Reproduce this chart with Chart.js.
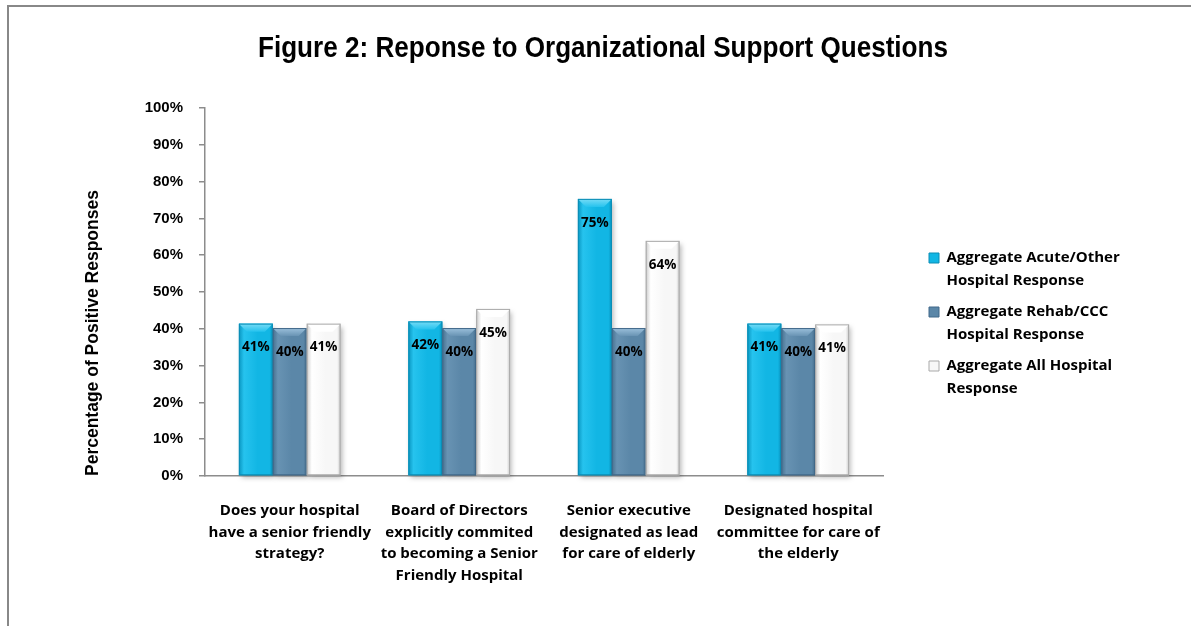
<!DOCTYPE html>
<html>
<head>
<meta charset="utf-8">
<script src="https://cdn.jsdelivr.net/npm/chart.js@4.4.1/dist/chart.umd.min.js"></script>
<style>
    html, body { margin: 0; padding: 0; background: #fff; overflow: hidden; }
    #wrap { position: relative; width: 1191px; height: 626px; }
    #frame { position: absolute; left: 7px; top: 5px; width: 1300px; height: 800px; border: 2px solid #888; box-sizing: border-box; }
    #orgChart { position: absolute; left: 0; top: 0; }
</style>
</head>
<body>
<div id="wrap">
    <div id="frame"></div>
    <canvas id="orgChart" width="1191" height="626"></canvas>
</div>
<script>
// Data
const chartTitle = 'Figure 2: Reponse to Organizational Support Questions';
const categories = [
    ['Does your hospital', 'have a senior friendly', 'strategy?'],
    ['Board of Directors', 'explicitly commited', 'to becoming a Senior', 'Friendly Hospital'],
    ['Senior executive', 'designated as lead', 'for care of elderly'],
    ['Designated hospital', 'committee for care of', 'the elderly']
];
const seriesNames = [
    ['Aggregate Acute/Other', 'Hospital Response'],
    ['Aggregate Rehab/CCC', 'Hospital Response'],
    ['Aggregate All Hospital', 'Response']
];
const acuteValues = [41.4, 42.0, 75.3, 41.4];
const rehabValues = [40.2, 40.2, 40.2, 40.2];
const allValues = [41.4, 45.4, 63.9, 41.2];
const yTicks = [0, 10, 20, 30, 40, 50, 60, 70, 80, 90, 100];

// Bar colours (edge / body / top bevel / outline)
const palettes = [
    { edge: '#0895c0', body: '#12b6e4', hi: '#26c3ee', top: '#78dcf6', line: '#0a8db5' },
    { edge: '#46708f', body: '#5b87a8', hi: '#6893b3', top: '#9cc1dc', line: '#41698a' },
    { edge: '#c9c9c9', body: '#f7f7f7', hi: '#ffffff', top: '#ffffff', line: '#a9a9a9' }
];

const textFamily = "'Open Sans', Lato, sans-serif";
const legendFont = { family: textFamily, size: 15, weight: 'bold', lineHeight: 1.5 };

// measure widest legend line so the plot ends where the reference does
const mctx = document.createElement('canvas').getContext('2d');
mctx.font = "bold 15px 'Open Sans', Lato, sans-serif";
const legendTextW = Math.max(...seriesNames.flat().map(t => mctx.measureText(t).width));
const rightPad = Math.max(0, 1191 - 884 - 37 - (18 + 17.5 + legendTextW));

// narrow bold title (Arial Narrow look)
const narrowTitle = {
    id: 'narrowTitle',
    afterDraw(chart) {
        const ctx = chart.ctx;
        ctx.save();
        ctx.font = "bold 29px 'Liberation Sans', Arial, sans-serif";
        const w = ctx.measureText(chartTitle).width;
        ctx.translate(603, 57);
        ctx.scale(690 / w, 1);
        ctx.fillStyle = '#000';
        ctx.textAlign = 'center';
        ctx.textBaseline = 'alphabetic';
        ctx.fillText(chartTitle, 0, 0);
        ctx.restore();
    }
};

// shaded bars + value labels
const barShading = {
    id: 'barShading',
    afterDatasetsDraw(chart) {
        const ctx = chart.ctx;
        chart.data.datasets.forEach((ds, di) => {
            const pal = palettes[di];
            chart.getDatasetMeta(di).data.forEach(bar => {
                const { x, y, base, width } = bar.getProps(['x', 'y', 'base', 'width'], true);
                const l = x - width / 2, r = x + width / 2, h = base - y;
                const bev = Math.min(8, width / 4);
                ctx.save();
                ctx.shadowColor = 'rgba(0,0,0,0.28)';
                ctx.shadowBlur = 5;
                ctx.shadowOffsetX = 2;
                ctx.shadowOffsetY = 3;
                const g = ctx.createLinearGradient(l, 0, r, 0);
                g.addColorStop(0, pal.edge);
                g.addColorStop(0.15, pal.hi);
                g.addColorStop(0.55, pal.body);
                g.addColorStop(0.9, pal.body);
                g.addColorStop(1, pal.edge);
                ctx.fillStyle = g;
                ctx.fillRect(l, y, width, h);
                ctx.restore();

                ctx.save();
                // top bevel
                const tg = ctx.createLinearGradient(0, y, 0, y + bev);
                tg.addColorStop(0, pal.top);
                tg.addColorStop(1, pal.hi);
                ctx.fillStyle = tg;
                ctx.beginPath();
                ctx.moveTo(l, y);
                ctx.lineTo(r, y);
                ctx.lineTo(r - bev, y + bev);
                ctx.lineTo(l + bev, y + bev);
                ctx.closePath();
                ctx.fill();
                ctx.strokeStyle = pal.line;
                ctx.lineWidth = 1;
                ctx.strokeRect(l + 0.5, y + 0.5, width - 1, h - 1);
                ctx.restore();
            });
        });

        ctx.save();
        ctx.font = "bold 13.5px 'Open Sans', Lato, sans-serif";
        ctx.fillStyle = '#000';
        ctx.textAlign = 'center';
        ctx.textBaseline = 'middle';
        chart.data.datasets.forEach((ds, di) => {
            chart.getDatasetMeta(di).data.forEach((bar, i) => {
                ctx.fillText(Math.round(ds.data[i]) + '%', bar.x, bar.y + 24);
            });
        });
        ctx.restore();
    }
};

const orgChart = new Chart(document.getElementById('orgChart'), {
    type: 'bar',
    data: {
        labels: categories,
        datasets: [
            { label: seriesNames[0].join(' '), data: acuteValues, backgroundColor: palettes[0].body },
            { label: seriesNames[1].join(' '), data: rehabValues, backgroundColor: palettes[1].body },
            { label: seriesNames[2].join(' '), data: allValues, backgroundColor: palettes[2].body }
        ]
    },
    options: {
        responsive: false,
        animation: false,
        events: [],
        layout: { padding: { left: 70, right: rightPad, top: 108, bottom: 0 } },
        datasets: { bar: { categoryPercentage: 0.6, barPercentage: 1 } },
        scales: {
            x: {
                grid: { display: false },
                border: { display: true, color: '#8c8c8c', width: 1.5 },
                ticks: {
                    color: '#000',
                    padding: 16,
                    maxRotation: 0,
                    autoSkip: false,
                    font: { family: textFamily, size: 15, weight: 'bold', lineHeight: 1.44 }
                },
                afterFit: s => { s.height = 150; }
            },
            y: {
                min: 0,
                max: 100,
                afterBuildTicks: s => { s.ticks = yTicks.map(v => ({ value: v })); },
                grid: { drawOnChartArea: false, color: '#8c8c8c', lineWidth: 1.5, tickLength: 6 },
                border: { color: '#8c8c8c', width: 1.5 },
                ticks: {
                    color: '#000',
                    padding: 16,
                    font: { family: "'Liberation Sans', Arial, sans-serif", size: 15, weight: 'bold' },
                    callback: v => v + '%'
                },
                title: {
                    display: true,
                    text: 'Percentage of Positive Responses',
                    align: 'start',
                    color: '#000',
                    padding: { top: 12.5, bottom: 0 },
                    font: { family: "'Liberation Sans', Arial, sans-serif", size: 17.5, weight: 'bold' }
                },
                afterFit: s => { s.width = 135; }
            },
            yPad: {
                position: 'right',
                grid: { display: false },
                border: { display: false },
                ticks: { display: false },
                afterFit: s => { s.width = 37; }
            }
        },
        plugins: {
            title: { display: false },
            legend: {
                position: 'right',
                align: 'start',
                maxWidth: 400,
                title: { display: true, text: ' ', font: { size: 10, lineHeight: 1 }, padding: { top: 123.5, bottom: 0 } },
                labels: {
                    color: '#000',
                    boxWidth: 10,
                    boxHeight: 10,
                    padding: 9,
                    font: legendFont,
                    generateLabels: chart => chart.data.datasets.map((ds, i) => ({
                        text: seriesNames[i],
                        fillStyle: ds.backgroundColor,
                        strokeStyle: palettes[i].line,
                        lineWidth: 1,
                        hidden: false,
                        datasetIndex: i,
                        fontColor: '#000'
                    }))
                }
            },
            tooltip: { enabled: false }
        }
    },
    plugins: [barShading, narrowTitle]
});
</script>
</body>
</html>
